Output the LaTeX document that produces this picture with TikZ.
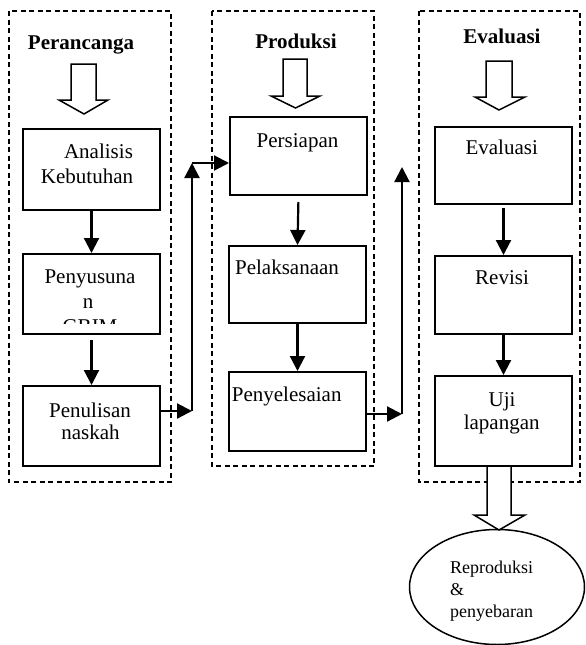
\documentclass[tikz,border=0pt]{standalone}
\usepackage{fontspec}
\setmainfont{Liberation Serif}
\usetikzlibrary{arrows.meta,shapes.geometric}
\begin{document}
\begin{tikzpicture}[x=1pt,y=-1pt,
  phase/.style={draw, line width=1.4pt, dash pattern=on 5pt off 3.5pt},
  stepbox/.style={draw, line width=2pt, minimum width=137pt, inner sep=0pt, anchor=north west},
  txt/.style={anchor=base, inner sep=0pt, font=\fontsize{21}{23}\selectfont},
  ttl/.style={anchor=base, inner sep=0pt, font=\fontsize{21}{23}\selectfont\bfseries},
  flow/.style={line width=2.2pt, -{Triangle[length=15pt,width=15pt]}},
  hollow/.style={draw, line width=1.5pt, fill=white, line join=miter}
]
\useasboundingbox (0,0) rectangle (586,645);

% phase frames
\draw[phase] (9,11) rectangle (171,482);
\draw[phase] (212,11) rectangle (374,466);
\draw[phase] (419,11) rectangle (580,482);

% titles
\node[ttl] (t1) at (81,49) {Perancanga};
\node[ttl] (t2) at (296,48) {Produksi};
\node[ttl] (t3) at (502,43) {Evaluasi};

% hollow arrows below titles
\draw[hollow] (71,64) -- (96,64) -- (96,100) -- (108,100) -- (84,114) -- (59,100) -- (71,100) -- cycle;
\draw[hollow] (283,59) -- (307,59) -- (307,96) -- (320,96) -- (295.5,108) -- (271,96) -- (283,96) -- cycle;
\draw[hollow] (486,61) -- (512,61) -- (512,97) -- (525,97) -- (499,110) -- (475,97) -- (486,97) -- cycle;

% boxes
\node[stepbox, minimum height=81pt] (A) at (22,128) {};
\node[stepbox, minimum height=80pt] (B) at (22,253) {};
\node[stepbox, minimum height=80pt] (C) at (22,385) {};
\node[stepbox, minimum height=78pt] (D) at (229,116) {};
\node[stepbox, minimum height=77pt] (E) at (228,245) {};
\node[stepbox, minimum height=79pt] (F) at (228,371) {};
\node[stepbox, minimum height=77pt] (G) at (434,126) {};
\node[stepbox, minimum height=78pt] (H) at (434,255) {};
\node[stepbox, minimum height=90pt] (I) at (434,375) {};

% box texts
\node[txt] (a1) at (98.5,158) {Analisis};
\node[txt] (a2) at (87,183) {Kebutuhan};
\node[txt] (b1) at (90,283) {Penyusuna};
\node[txt] (b2) at (88,308) {n};
\begin{scope}
\clip (22,253) rectangle (159,323);
\node[txt] (b3) at (90,333) {GBIM};
\end{scope}
\node[txt] (c1) at (90,417) {Penulisan};
\node[txt] (c2) at (90.5,439) {naskah};
\node[txt] (d1) at (297.5,147) {Persiapan};
\node[txt] (e1) at (287,274) {Pelaksanaan};
\node[txt] (f1) at (286.7,401) {Penyelesaian};
\node[txt] (g1) at (501.7,154) {Evaluasi};
\node[txt] (h1) at (502,284) {Revisi};
\node[txt] (i1) at (502,406) {Uji};
\node[txt] (i2) at (501.7,429) {lapangan};

% vertical flows inside phases
\draw[flow] (A.south) -- (B.north);
\draw[flow, shorten <=5pt] (B.south) -- (C.north);
\draw[flow, shorten <=6pt] (D.south) -- (E.north);
\draw[flow] (E.south) -- (F.north);
\draw[flow, shorten <=3pt] (G.south) -- (H.north);
\draw[flow] (H.south) -- (I.north);

% links between phases
\coordinate (j1) at (192,411);
\coordinate (j2) at (192,163);
\draw[flow] (C.east |- j1) -- (j1);
\draw[flow] (j1) -- (j2);
\draw[flow] (j2) -- (j2 -| D.west);
\coordinate (k1) at (402,414);
\coordinate (k2) at (402,167);
\draw[flow] (F.east |- k1) -- (k1);
\draw[flow] (k1) -- (k2);

% final ellipse
\node[draw, ellipse, line width=1.5pt, minimum width=175pt, minimum height=115pt, inner sep=0pt] (R) at (497,587) {};
\draw[hollow] (487,466) -- (511,466) -- (511,515) -- (525,515) -- (499,530) -- (474,515) -- (487,515) -- cycle;
\node[anchor=base west, inner sep=0pt, align=left, font=\fontsize{18}{22}\selectfont] (r1) at (450,617) {Reproduksi\\\&\\penyebaran};
\end{tikzpicture}
\end{document}
